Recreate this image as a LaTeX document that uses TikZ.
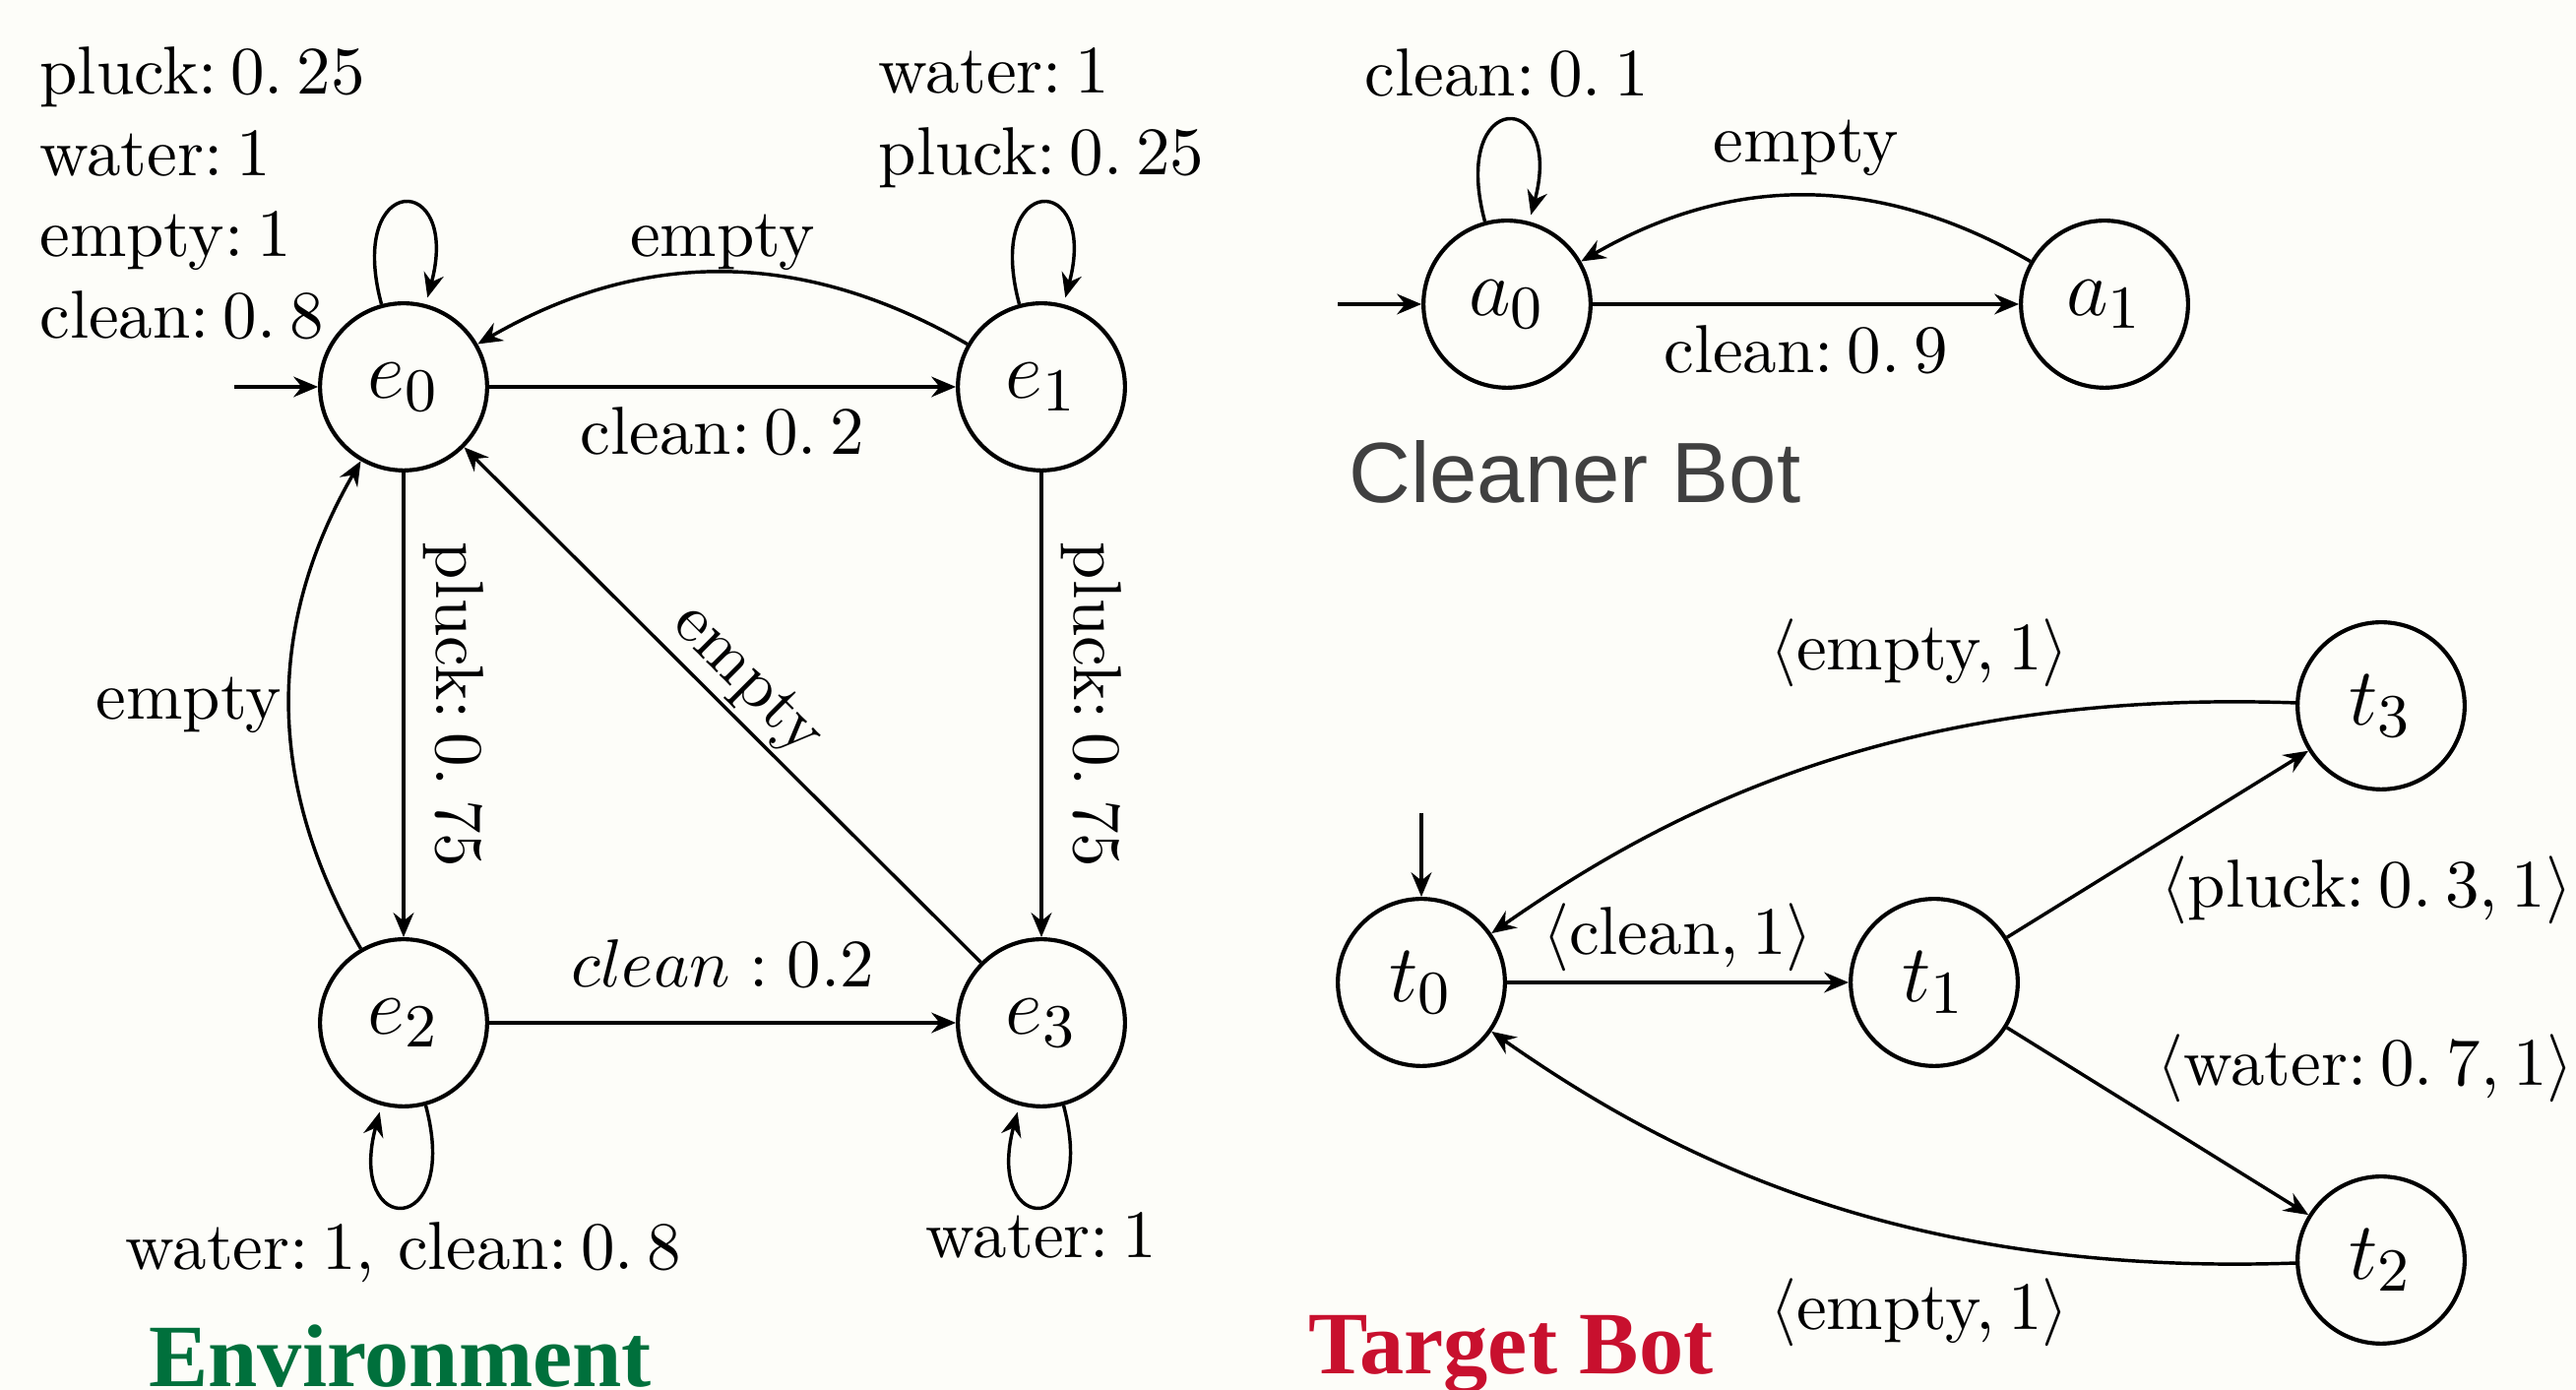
\documentclass[tikz,border=0pt]{standalone}
\usepackage{amsmath}
\usepackage{graphicx}
\usepackage{fontspec}
\newfontfamily\titleserif{Liberation Serif}
\newfontfamily\titlesans{Liberation Sans}
\usetikzlibrary{arrows.meta}
\definecolor{bgcol}{RGB}{253,253,249}
\definecolor{envgreen}{RGB}{0,112,60}
\definecolor{botred}{RGB}{200,16,46}
\definecolor{cleangray}{RGB}{64,64,64}
\newcommand{\mysp}{\hspace{0.2em}}
\begin{document}
\begin{tikzpicture}[x=0.14493pt, y=-0.14493pt,
  >={Stealth[length=3.6pt,width=3pt,inset=1.2pt]},
  state/.style={circle, draw, line width=0.6pt, minimum size=24.6pt, inner sep=0pt, font=\fontsize{13}{15.6}\selectfont},
  trans/.style={->, line width=0.5pt},
  title/.style={anchor=base west, inner sep=0pt}
]
\fill[bgcol] (0,0) rectangle (2617,1412);
\useasboundingbox (0,0) rectangle (2617,1412);

% ---------------- Environment ----------------
\node[state] (e0) at (410,393) {$e_0$};
\node[state] (e1) at (1058,393) {$e_1$};
\node[state] (e2) at (410,1039) {$e_2$};
\node[state] (e3) at (1058,1039) {$e_3$};
\coordinate (e0in) at (238,393);
\draw[trans] (e0in) -- (e0);
\draw[trans] (e0) -- node[below, inner sep=2.75pt] {clean:\mysp 0.\mysp 2} (e1);
\draw[trans] (e1) to[bend right=30] node[above, inner sep=0pt] {empty} (e0);
\draw[trans] (e0) -- node[rotate=-90, anchor=south, inner sep=2.6pt] {pluck:\mysp 0.\mysp 75} (e2);
\draw[trans] (e1) -- node[rotate=-90, anchor=south, inner sep=2.6pt] {pluck:\mysp 0.\mysp 75} (e3);
\draw[trans] (e2) -- node[above, inner sep=5pt] {$clean : 0.2$} (e3);
\draw[trans] (e3) -- node[rotate=-45, anchor=south, inner sep=0.5pt] {empty} (e0);
\draw[trans] (e2) to[bend left=30] node[left, inner sep=1pt] {empty} (e0);
\path (e0) edge[trans, loop above] node[left, align=left, inner sep=5.4pt, yshift=1.6pt]
  {pluck:\mysp 0.\mysp 25\\ water:\mysp 1\\ empty:\mysp 1\\ clean:\mysp 0.\mysp 8} ();
\path (e1) edge[trans, loop above] node[above, align=left, inner sep=2.2pt]
  {water:\mysp 1\\ pluck:\mysp 0.\mysp 25} ();
\path (e2) edge[trans, loop below] node[below, inner sep=2.2pt] {water:\mysp 1, clean:\mysp 0.\mysp 8} ();
\path (e3) edge[trans, loop below] node[below, inner sep=0.7pt] {water:\mysp 1} ();
\node[title, text=envgreen, font=\titleserif\bfseries\fontsize{13.1}{15}\selectfont] (envtitle) at (150,1409) {Environment};

% ---------------- Cleaner Bot ----------------
\node[state] (a0) at (1531,309) {$a_0$};
\node[state] (a1) at (2138,309) {$a_1$};
\coordinate (a0in) at (1359,309);
\draw[trans] (a0in) -- (a0);
\draw[trans] (a0) -- node[below, inner sep=2.9pt] {clean:\mysp 0.\mysp 9} (a1);
\draw[trans] (a1) to[bend right=30] node[above, inner sep=2.6pt] {empty} (a0);
\path (a0) edge[trans, loop above] node[above, inner sep=3.3pt] {clean:\mysp 0.\mysp 1} ();
\node[title, text=cleangray, font=\titlesans\fontsize{12.6}{15}\selectfont] (cleanertitle) at (1369,511) {Cleaner Bot};

% ---------------- Target Bot ----------------
\node[state] (t0) at (1444,998) {$t_0$};
\node[state] (t1) at (1965,998) {$t_1$};
\node[state] (t3) at (2419,717) {$t_3$};
\node[state] (t2) at (2419,1280) {$t_2$};
\coordinate (t0in) at (1444,826);
\draw[trans] (t0in) -- (t0);
\draw[trans] (t0) -- node[above, inner sep=1.45pt] {$\langle$clean,\mysp 1$\rangle$} (t1);
\draw[trans] (t1) -- node[anchor=north west, inner sep=1.5pt, xshift=-1.2pt] {$\langle$pluck:\mysp 0.\mysp 3,\mysp 1$\rangle$} (t3);
\draw[trans] (t1) -- node[anchor=south west, inner sep=1.5pt, yshift=1pt, xshift=-1.8pt] {$\langle$water:\mysp 0.\mysp 7,\mysp 1$\rangle$} (t2);
\draw[trans] (t3) to[out=178, in=35, out distance=58pt, in distance=32pt]
  node[pos=0.37, above, inner sep=7pt] {$\langle$empty,\mysp 1$\rangle$} (t0);
\draw[trans] (t2) to[out=182, in=-35, out distance=58pt, in distance=32pt]
  node[pos=0.37, below, inner sep=7pt] {$\langle$empty,\mysp 1$\rangle$} (t0);
\node[title, text=botred, font=\titleserif\bfseries\fontsize{13.1}{15}\selectfont] (targettitle) at (1328,1396) {Target Bot};
\end{tikzpicture}
\end{document}
